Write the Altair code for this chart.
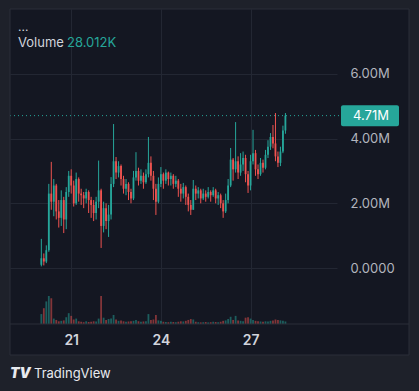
import altair as alt
import numpy as np
import pandas as pd

# ---------------- data ----------------
closes = [0.30, 0.20, 0.55, 2.30, 2.05, 2.55, 1.75, 1.55, 2.10, 1.50,
          2.35, 2.85, 2.55, 2.00, 2.75, 2.30, 2.25, 2.15, 2.35, 2.10,
          1.95, 1.70, 2.05, 2.40, 1.30, 1.85, 1.45, 1.65, 2.60, 3.30,
          2.95, 3.15, 2.75, 2.45, 2.60, 2.35, 2.15, 2.80, 3.00, 2.70,
          2.85, 2.65, 2.90, 3.25, 2.85, 2.45, 2.05, 2.60, 2.90, 2.70,
          2.95, 2.75, 2.85, 2.60, 2.70, 2.45, 2.30, 2.50, 2.20, 1.95,
          1.80, 2.45, 2.30, 2.40, 2.15, 2.30, 2.20, 2.35, 2.25, 2.40,
          2.15, 2.25, 2.00, 1.75, 2.10, 2.55, 3.35, 3.05, 3.30, 2.95,
          3.20, 3.40, 2.90, 2.55, 3.30, 3.55, 3.05, 2.90, 3.25, 3.10,
          3.50, 3.75, 4.05, 3.85, 3.45, 3.25, 3.60, 4.25, 4.71]
highs = [0.90, 0.45, 0.70, 2.60, 3.28, 2.75, 2.60, 2.10, 2.40, 2.20,
         2.50, 3.00, 3.05, 2.70, 2.95, 2.80, 2.45, 2.35, 2.45, 2.40,
         2.20, 2.10, 2.20, 3.32, 2.45, 2.05, 2.00, 1.95, 2.81, 4.45,
         3.43, 3.30, 3.20, 2.85, 2.75, 2.65, 2.45, 3.00, 3.58, 3.10,
         3.05, 2.95, 3.05, 4.05, 3.45, 3.00, 2.60, 2.80, 3.12, 2.95,
         3.05, 2.98, 2.95, 2.90, 2.85, 2.75, 2.60, 2.63, 2.55, 2.30,
         2.10, 2.72, 2.55, 2.50, 2.45, 2.45, 2.40, 2.50, 2.40, 2.50,
         2.45, 2.35, 2.30, 2.10, 2.30, 2.75, 3.71, 3.40, 4.51, 3.45,
         3.55, 3.60, 3.50, 3.00, 3.50, 4.27, 3.65, 3.20, 3.40, 3.35,
         3.65, 3.95, 4.17, 4.42, 4.79, 3.60, 3.75, 4.40, 4.79]
lows = [0.05, 0.08, 0.15, 0.50, 1.80, 1.60, 1.50, 1.25, 1.30, 1.08,
        1.20, 2.20, 2.30, 1.90, 1.95, 2.05, 1.95, 1.85, 2.00, 1.70,
        1.55, 1.45, 1.50, 1.85, 0.62, 1.10, 1.20, 0.96, 1.50, 2.50,
        2.75, 2.80, 2.55, 2.30, 2.25, 2.10, 2.00, 2.10, 2.70, 2.55,
        2.60, 2.45, 2.60, 2.80, 2.70, 2.10, 1.64, 2.00, 2.50, 2.45,
        2.60, 2.55, 2.55, 2.45, 2.50, 2.20, 2.05, 2.15, 1.95, 1.75,
        1.64, 1.80, 2.10, 2.15, 2.00, 2.10, 2.05, 2.15, 2.05, 2.20,
        2.00, 1.95, 1.85, 1.55, 1.70, 2.00, 2.50, 2.70, 2.95, 2.75,
        2.85, 3.00, 2.65, 2.32, 2.40, 3.20, 2.85, 2.75, 2.85, 2.95,
        3.05, 3.40, 3.65, 3.70, 3.30, 3.12, 3.15, 3.55, 4.15]
volumes = [110, 175, 250, 310, 285, 60, 45, 30, 35, 40,
           75, 120, 90, 50, 60, 30, 25, 20, 30, 22,
           25, 30, 28, 60, 310, 70, 45, 55, 60, 100,
           50, 35, 40, 30, 25, 28, 30, 35, 45, 30,
           25, 28, 30, 110, 45, 50, 100, 40, 35, 25,
           22, 20, 25, 22, 20, 25, 30, 28, 35, 45,
           55, 50, 25, 20, 18, 20, 22, 18, 20, 25,
           22, 20, 25, 35, 40, 55, 80, 45, 90, 40,
           35, 30, 70, 75, 60, 45, 35, 30, 28, 25,
           30, 28, 35, 40, 50, 45, 40, 35, 28.012]
first_open = 0.10
start_day = 20.0
step_days = 2 / 24
price_ticks = [0, 2, 4, 6]
day_ticks = [21, 24, 27]

# ---------------- style ----------------
FONT = "Inter"
UP = "#26a69a"
DOWN = "#ef5350"
PANEL = "#141722"
OUTER = "#1e212a"
BORDER = "#2a2e39"
GRID = "#232733"
TXT = "#d1d4dc"
AXTXT = "#b2b5be"

W, H = 327, 315
x_dom = [19.119, 29.725]
y_dom = [-1.731, 8.006]
vol_px = 28

days = [start_day + i * step_days for i in range(len(closes))]
opens = [first_open] + closes[:-1]
df = pd.DataFrame(dict(day=days, open=opens, close=closes, high=highs,
                       low=lows, vol=volumes))
df["dir"] = np.where(df["close"] >= df["open"], "up", "down")

color = alt.Color("dir:N", scale=alt.Scale(domain=["up", "down"], range=[UP, DOWN]),
                  legend=None)
xscale = alt.Scale(domain=x_dom, nice=False, zero=False)


def yscale():
    return alt.Scale(domain=y_dom, nice=False, zero=False)


x_enc = alt.X("day:Q", scale=xscale,
              axis=alt.Axis(values=day_ticks, format="d", grid=True, gridColor=GRID,
                            ticks=False, domain=False, labelPadding=9, labelFontSize=14,
                            labelFontWeight=600, labelColor=TXT, labelFont=FONT,
                            title=None))
y_axis = alt.Axis(orient="right", values=price_ticks,
                  labelExpr="datum.value == 0 ? '0.0000' : format(datum.value, '.2f') + 'M'",
                  grid=True, gridColor=GRID, ticks=False, domain=False,
                  labelPadding=13, labelAlign="left", labelColor=AXTXT,
                  labelFontSize=13, labelFont=FONT, title=None)

base = alt.Chart(df)
wick = base.mark_rule(strokeWidth=1).encode(
    x=x_enc, y=alt.Y("low:Q", scale=yscale(), axis=y_axis), y2="high:Q", color=color)
body = base.mark_bar(size=1.8).encode(
    x=x_enc, y=alt.Y("open:Q", scale=yscale(), axis=None), y2="close:Q", color=color)

last = closes[-1]
half = 10.5 * (y_dom[1] - y_dom[0]) / H
df_last = pd.DataFrame({"p": [last], "lo": [last - half], "hi": [last + half],
                        "label": [f"{last:.2f}M"]})
last_line = alt.Chart(df_last).mark_rule(color=UP, strokeDash=[1, 3], strokeWidth=1).encode(
    x=alt.value(0), x2=alt.value(331), y=alt.Y("p:Q", scale=yscale(), axis=None))
last_box = alt.Chart(df_last).mark_rect(color=UP, cornerRadius=2).encode(
    x=alt.value(331), x2=alt.value(389), y=alt.Y("lo:Q", scale=yscale(), axis=None), y2="hi:Q")
last_txt = alt.Chart(df_last).mark_text(color="white", fontSize=13, font=FONT,
                                        align="center", baseline="middle").encode(
    x=alt.value(361), y=alt.Y("p:Q", scale=yscale(), axis=None), text="label:N")

vol = base.mark_bar(size=1.8, opacity=0.5).encode(
    x=x_enc,
    y=alt.Y("vol:Q", scale=alt.Scale(domain=[0, max(volumes) * H / vol_px], nice=False),
            axis=None),
    color=color)

one = pd.DataFrame({"a": [0]})


def rect(x1, x2, y1, y2, **kw):
    return alt.Chart(one).mark_rect(**kw).encode(
        x=alt.value(x1), x2=alt.value(x2), y=alt.value(y1), y2=alt.value(y2))


frame = [
    rect(-10, 409, -9, 0, color=OUTER),
    rect(-10, 409, 346, 382, color=OUTER),
    rect(-10, 0, -9, 382, color=OUTER),
    rect(399, 409, -9, 382, color=OUTER),
    rect(0, 399, 0, 346, fill=None, stroke=BORDER, strokeWidth=1),
]
sep = alt.Chart(one).mark_rule(color=BORDER, strokeWidth=1).encode(
    x=alt.value(0), x2=alt.value(399), y=alt.value(315))


def text(t, x, y, **kw):
    return alt.Chart(one).mark_text(align="left", baseline="middle", font=FONT, **kw).encode(
        x=alt.value(x), y=alt.value(y), text=alt.value(t))


texts = [
    text("...", 8, 18, fontSize=12, color=TXT),
    text("Volume", 8, 34, fontSize=13, color=TXT),
    text(f"{volumes[-1]:.3f}K", 57, 34, fontSize=13, color=UP),
    text("TV", 0, 365, fontSize=14, fontWeight=900, fontStyle="italic", color="#e8eaef"),
    text("TradingView", 24, 365, fontSize=13, color="#e8eaef"),
]

chart = alt.layer(vol, wick, body, last_line, last_box, last_txt, sep, *frame, *texts
                  ).resolve_scale(y="independent").properties(
    width=W, height=H,
    padding={"left": 10, "top": 9, "right": 82, "bottom": 67},
    autosize=alt.AutoSizeParams(type="none"),
    background=PANEL,
).configure_view(strokeWidth=0)

chart.save("out.html", embed_options={"renderer": "svg", "actions": False})
